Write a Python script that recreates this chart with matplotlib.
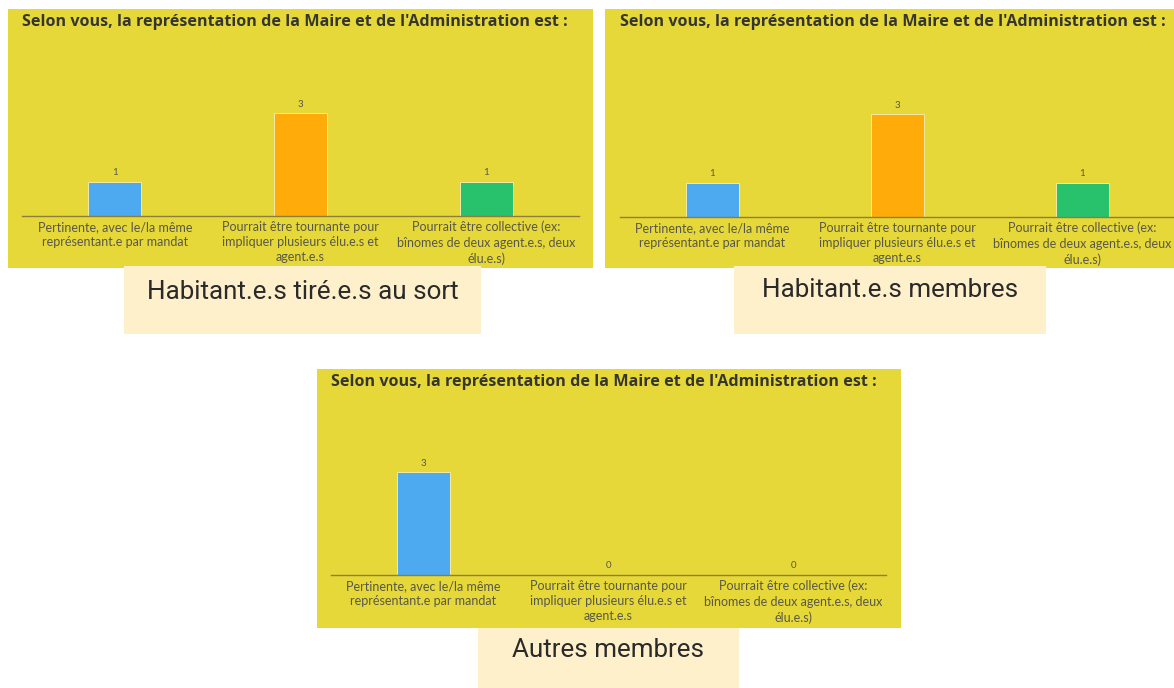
import matplotlib
matplotlib.use('Agg')
import matplotlib.pyplot as plt
from matplotlib.patches import Rectangle

# chart data
title = "Selon vous, la représentation de la Maire et de l'Administration est :"
categories = [ 'Pertinente, avec le/la même\nreprésentant.e par mandat',
               'Pourrait être tournante pour\nimpliquer plusieurs élu.e.s et\nagent.e.s',
               'Pourrait être collective (ex:\nbînomes de deux agent.e.s, deux\nélu.e.s)' ]
counts_tires = [ 1, 3, 1 ]
counts_membres = [ 1, 3, 1 ]
counts_autres = [ 3, 0, 0 ]
group_names = [ 'Habitant.e.s tiré.e.s au sort', 'Habitant.e.s membres', 'Autres membres' ]

bar_colors = [ '#4DA9F0', '#FFAC0A', '#28C26D' ]
panel_color = '#E6D838'
box_color = '#FFF0CC'
text_color = '#58584A'

W, H = 1174, 688

def fx( px ):
    return px / W

def fy( py ):
    return 1 - py / H

fig = plt.figure( figsize = ( W / 100, H / 100 ), dpi = 100 )
fig.patch.set_facecolor( 'white' )

def add_rect( x0, y0, x1, y1, color ):
    fig.add_artist( Rectangle( ( fx( x0 ), fy( y1 ) ), fx( x1 ) - fx( x0 ), fy( y0 ) - fy( y1 ),
                               transform = fig.transFigure, facecolor = color, edgecolor = 'none', zorder = 0 ) )

# draws one yellow panel with its bar chart and the beige caption box below
def plotPanel( panel, axbox, box, counts, name, name_y ):
    add_rect( *panel, panel_color )
    ax_x0, ax_x1, ax_top, ax_bot = axbox
    fig.text( fx( ax_x0 ), fy( panel[ 1 ] + 13 ), title, ha = 'left', va = 'center',
              fontsize = 11.65, fontweight = 'bold', color = '#363630', family = 'Open Sans' )
    ax = fig.add_axes( [ fx( ax_x0 ), fy( ax_bot ), fx( ax_x1 ) - fx( ax_x0 ), fy( ax_top ) - fy( ax_bot ) ] )
    ax.patch.set_alpha( 0 )
    x = range( len( counts ) )
    ax.bar( x, counts, width = 0.285, color = bar_colors, edgecolor = '#F2EAA8', linewidth = 0.7 )
    for i, v in enumerate( counts ):
        ax.annotate( str( v ), ( i, v ), xytext = ( 0, 6.5 ), textcoords = 'offset points',
                     ha = 'center', va = 'center', fontsize = 7.0, color = text_color, family = 'Lato' )
    ax.set_xlim( -0.5, 2.5 )
    ax.set_ylim( 0, 5 )
    ax.set_xticks( list( x ) )
    ax.set_xticklabels( categories, fontsize = 9.0, color = text_color, linespacing = 1.33, family = 'Lato' )
    ax.tick_params( axis = 'x', length = 0, pad = 3.5 )
    ax.set_yticks( [] )
    for s in [ 'top', 'left', 'right' ]:
        ax.spines[ s ].set_visible( False )
    ax.spines[ 'bottom' ].set_color( '#8C7F3A' )
    ax.spines[ 'bottom' ].set_linewidth( 1.0 )
    add_rect( *box, box_color )
    fig.text( fx( ( box[ 0 ] + box[ 2 ] ) / 2 ), fy( name_y ), name, ha = 'center', va = 'center',
              fontsize = 18.7, color = '#2A2A2A', family = 'Roboto' )

plotPanel( ( 8, 9, 593, 268 ), ( 22, 579, 45, 216 ), ( 124, 266, 481, 334 ), counts_tires, group_names[ 0 ], 292 )
plotPanel( ( 605, 9, 1174, 268 ), ( 620, 1175, 46, 217 ), ( 734, 266, 1046, 334 ), counts_membres, group_names[ 1 ], 290 )
plotPanel( ( 317, 369, 901, 628 ), ( 331, 886, 404, 575 ), ( 478, 628, 739, 688 ), counts_autres, group_names[ 2 ], 650 )

plt.savefig( 'out.png', dpi = 100, facecolor = 'white' )
